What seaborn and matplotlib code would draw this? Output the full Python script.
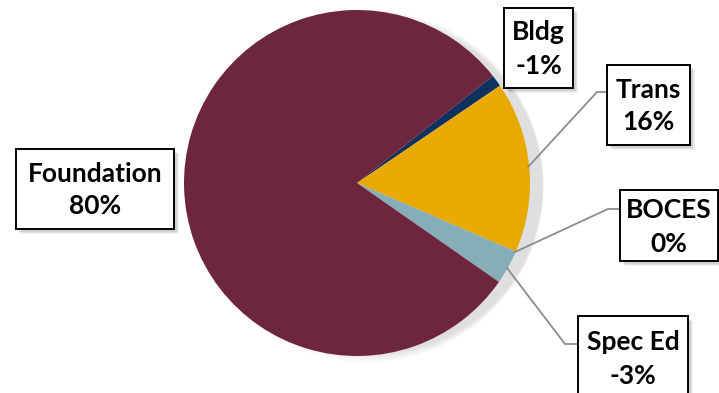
import matplotlib
matplotlib.use("Agg")
import matplotlib.pyplot as plt
import seaborn as sns
from matplotlib.patches import Circle

sns.set_theme(style="white")
plt.rcParams['font.family'] = ['Lato', 'DejaVu Sans']

categories = ["Bldg", "Trans", "BOCES", "Spec Ed", "Foundation"]
shares = [1.1, 16.0, 0.0, 3.2, 79.7]
pct_labels = ["-1%", "16%", "0%", "-3%", "80%"]
colors = ["#0E3160", "#E8AA00", "#5A5A5A", "#86AEB8", "#6D263E"]

W, H = 719, 393
fig = plt.figure(figsize=(W / 100, H / 100), dpi=100)
ax = fig.add_axes([0, 0, 1, 1])
ax.set_xlim(0, W)
ax.set_ylim(0, H)
ax.set_aspect('equal')
ax.axis('off')

cx, cy, r = 357, H - 183, 173

# soft shadow behind pie
for i in range(16):
    ax.add_patch(Circle((cx + 10 + i * 0.6, cy - 3), r + 4 - i * 0.7,
                        color="black", alpha=0.007, lw=0, zorder=0))

ax.pie(shares, colors=colors, startangle=38.2, counterclock=False,
       center=(cx, cy), radius=r, wedgeprops=dict(linewidth=0))
ax.set_xlim(0, W)
ax.set_ylim(0, H)
ax.set_aspect('equal')

# label boxes: (x0, y0_top, x1, y1_bottom) in pixel coords
boxes = {
    "Bldg": (504, 8, 573, 88),
    "Trans": (607, 65, 690, 145),
    "BOCES": (620, 190, 718, 261),
    "Spec Ed": (578, 316, 688, 400),
    "Foundation": (16, 149, 174, 229),
}
text_centers = {
    "Bldg": (538.5, 49),
    "Trans": (648.5, 106),
    "BOCES": (669, 227),
    "Spec Ed": (633, 359),
    "Foundation": (95, 190),
}

for cat, pct in zip(categories, pct_labels):
    x0, y0, x1, y1 = boxes[cat]
    for k, a in [(5, 0.05), (4, 0.06), (3, 0.08)]:
        ax.add_patch(plt.Rectangle((x0 + k, H - y1 - k), x1 - x0, y1 - y0,
                                   facecolor="black", alpha=a, lw=0, zorder=3))
    ax.add_patch(plt.Rectangle((x0, H - y1), x1 - x0, y1 - y0,
                               facecolor="white", edgecolor="black", lw=1.4, zorder=4))
    tx, ty = text_centers[cat]
    ax.text(tx, H - ty, f"{cat}\n{pct}", ha="center", va="center",
            fontsize=19, fontweight="bold", color="black", linespacing=1.45, zorder=5)

# leader lines
leaders = [
    [(607, 92), (597, 92), (528, 167)],
    [(620, 209), (608, 209), (515, 252)],
    [(507, 268), (565, 344), (578, 344)],
]
for pts in leaders:
    xs = [p[0] for p in pts]
    ys = [H - p[1] for p in pts]
    ax.plot(xs, ys, color="#8C8C8C", lw=1.3, zorder=2)

fig.savefig("out.png", dpi=100)
